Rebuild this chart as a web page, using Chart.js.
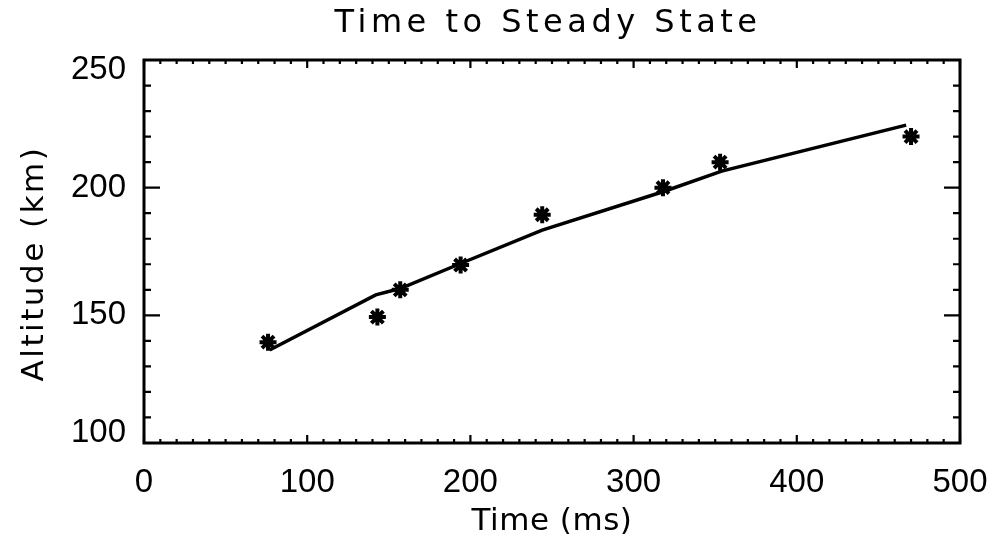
<!DOCTYPE html>
<html><head><meta charset="utf-8">
<script src="https://cdn.jsdelivr.net/npm/chart.js@4.4.0/dist/chart.umd.min.js"></script>
<style>html,body{margin:0;padding:0;background:#fff}#wrap{width:994px;height:543px}</style>
</head><body><div id="wrap"><canvas id="c" width="994" height="543"></canvas></div>
<script>
// Measured data (asterisks)
const timeMs = [76, 143, 157, 194, 244, 318, 353, 470];
const altitudeKm = [139.5, 149.3, 160, 169.7, 189.4, 200, 210, 220];
// Fitted curve (solid line)
const fitTimeMs = [77, 142, 157, 194, 244, 318, 354, 467];
const fitAltitudeKm = [136.4, 158, 160.5, 170.3, 183.4, 198.4, 206.5, 224.5];
// Tick labels
const xTickLabels = ['0', '100', '200', '300', '400', '500'];
const yTickLabels = ['100', '150', '200', '250'];

const chartTitle = 'Time to Steady State';
const xTitle = 'Time (ms)';
const yTitle = 'Altitude (km)';

const frameAndTicks = {
  id: 'frameAndTicks',
  afterDatasetsDraw(chart) {
    const {ctx, chartArea: {left, right, top, bottom}, scales: {x, y}} = chart;
    ctx.save();
    ctx.strokeStyle = '#000';
    ctx.lineWidth = 3;
    ctx.strokeRect(left, top, right - left, bottom - top);
    ctx.lineWidth = 2.2;
    ctx.beginPath();
    for (let v = x.min; v <= x.max + 0.001; v += 10) {
      const px = x.getPixelForValue(v);
      const len = (Math.round(v) % 100 === 0) ? 8 : 4;
      ctx.moveTo(px, bottom); ctx.lineTo(px, bottom - len);
      ctx.moveTo(px, top); ctx.lineTo(px, top + len);
    }
    for (let v = y.min; v <= y.max + 0.001; v += 10) {
      const py = y.getPixelForValue(v);
      const len = (Math.round(v) % 50 === 0) ? 16 : 7;
      ctx.moveTo(left, py); ctx.lineTo(left + len, py);
      ctx.moveTo(right, py); ctx.lineTo(right - len, py);
    }
    ctx.stroke();
    ctx.restore();
  }
};

const textTweaks = {
  id: 'textTweaks',
  afterLayout(chart) {
    const tb = chart.titleBlock;
    if (tb) {
      tb.left = chart.chartArea.left;
      tb.right = chart.chartArea.right;
      if (!tb._wrapped) {
        const orig = tb.draw.bind(tb);
        tb.draw = function () {
          const c = chart.ctx; c.save(); c.letterSpacing = '4.5px'; c.translate(-4, 0); orig(); c.restore();
        };
        tb._wrapped = true;
      }
    }
    const ys = chart.scales.y;
    if (ys && !ys._wrapped) {
      const o = ys.drawTitle.bind(ys);
      ys.drawTitle = function () {
        const c = chart.ctx; c.save(); c.letterSpacing = '2.5px'; c.translate(0, 12); o(); c.restore();
      };
      ys._wrapped = true;
    }
    const xs = chart.scales.x;
    if (xs && !xs._wrapped) {
      const o = xs.drawTitle.bind(xs);
      xs.drawTitle = function () {
        const c = chart.ctx; c.save(); c.letterSpacing = '0.5px'; o(); c.restore();
      };
      xs._wrapped = true;
    }
  }
};

new Chart(document.getElementById('c'), {
  data: {
    datasets: [
      {
        type: 'line',
        data: fitTimeMs.map((t, i) => ({x: t, y: fitAltitudeKm[i]})),
        borderColor: '#000',
        borderWidth: 3.5,
        pointRadius: 0,
        tension: 0,
        fill: false
      },
      {
        type: 'scatter',
        data: timeMs.map((t, i) => ({x: t, y: altitudeKm[i]})),
        pointStyle: 'star',
        pointRadius: 8.5,
        borderColor: '#000',
        backgroundColor: '#000',
        borderWidth: 4
      }
    ]
  },
  options: {
    responsive: false,
    animation: false,
    devicePixelRatio: 1,
    layout: {padding: {left: 0, right: 34, top: 0, bottom: 0}},
    plugins: {
      legend: {display: false},
      tooltip: {enabled: false},
      title: {
        display: true,
        text: chartTitle,
        color: '#000',
        font: {family: 'DejaVu Sans', size: 32, weight: 'normal', lineHeight: 1.2},
        padding: {top: 4, bottom: 17.6}
      }
    },
    scales: {
      x: {
        type: 'linear',
        min: 0, max: 500,
        afterBuildTicks: s => { s.ticks = xTickLabels.map(v => ({value: Number(v)})); },
        afterFit: s => { s.height = 100; s.paddingRight = 0; s.paddingLeft = 0; },
        grid: {display: false, drawTicks: false},
        border: {display: false},
        ticks: {
          color: '#000',
          padding: 20,
          maxRotation: 0,
          font: {family: 'Liberation Sans', size: 33},
          callback: (v) => xTickLabels.find(l => Number(l) === v)
        },
        title: {
          display: true, text: xTitle, color: '#000',
          font: {family: 'DejaVu Sans', size: 31, lineHeight: 1.2},
          padding: {top: 0, bottom: 2}
        }
      },
      y: {
        type: 'linear',
        min: 100, max: 250,
        afterBuildTicks: s => { s.ticks = yTickLabels.map(v => ({value: Number(v)})); },
        afterFit: s => { s.width = 144; s.paddingTop = 0; s.paddingBottom = 0; },
        grid: {display: false, drawTicks: false},
        border: {display: false},
        ticks: {
          color: '#000',
          padding: 18,
          font: {family: 'Liberation Sans', size: 33, lineHeight: 0.6},
          callback: (v) => {
            const l = yTickLabels.find(t => Number(t) === v);
            if (v === 250) return ['', l];
            if (v === 100) return [l, ''];
            return l;
          }
        },
        title: {
          display: true, text: yTitle, color: '#000',
          font: {family: 'DejaVu Sans', size: 31, lineHeight: 1.2},
          padding: {top: 16, bottom: 0}
        }
      }
    }
  },
  plugins: [frameAndTicks, textTweaks]
});
</script>
</body></html>
